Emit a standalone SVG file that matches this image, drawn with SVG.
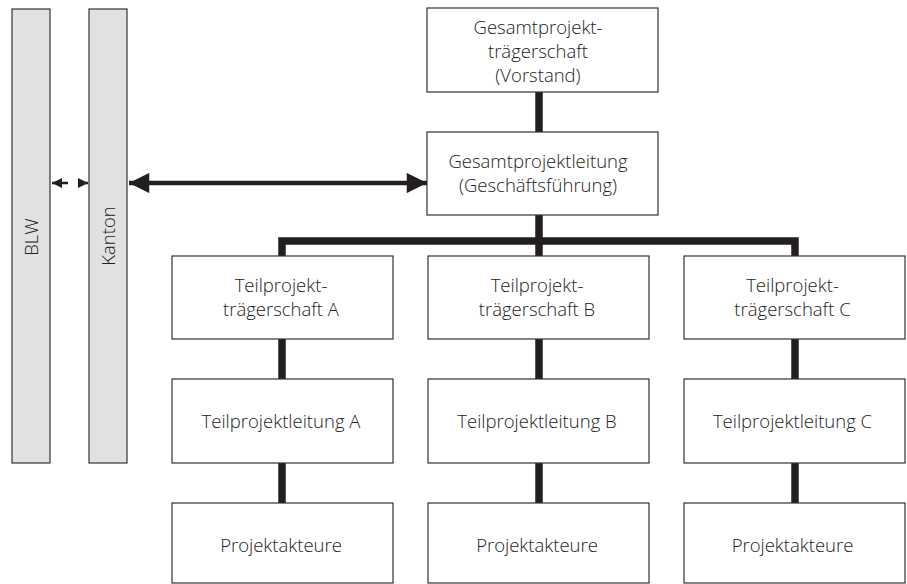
<svg xmlns="http://www.w3.org/2000/svg" width="907" height="584" viewBox="0 0 907 584">
<style>
.box{fill:#fff;stroke:#333;stroke-width:1.2}
.bar{fill:#e1e1e1;stroke:#333;stroke-width:1.2}
.t{font-family:"Open Sans","Liberation Sans",sans-serif;font-weight:300;font-size:18.5px;fill:#222;text-anchor:middle}
.c{stroke:#231f20;stroke-width:7.5;fill:none}
</style>
<defs>
<marker id="big" viewBox="0 0 10 10" refX="10" refY="5" markerWidth="5" markerHeight="4.5" markerUnits="strokeWidth" orient="auto-start-reverse"><path d="M0,0 L10,5 L0,10 Z" fill="#231f20"/></marker>
<marker id="sm" viewBox="0 0 10 10" refX="10" refY="5" markerWidth="4" markerHeight="4" markerUnits="strokeWidth" orient="auto-start-reverse"><path d="M0,0 L10,5 L0,10 Z" fill="#231f20"/></marker>
</defs>
<g id="connectors">
<path class="c" d="M539,92 V132"/>
<path class="c" d="M539,215 V256"/>
<path class="c" d="M282,256 V241 H795 V256"/>
<path class="c" d="M282,339 V379 M282,463 V503"/>
<path class="c" d="M539,339 V379 M539,463 V503"/>
<path class="c" d="M795,339 V379 M795,463 V503"/>
<line x1="129" y1="183" x2="427" y2="183" stroke="#231f20" stroke-width="4.5" marker-start="url(#big)" marker-end="url(#big)"/>
<line x1="52" y1="183" x2="68" y2="183" stroke="#231f20" stroke-width="2.5" marker-start="url(#sm)"/>
<line x1="78" y1="183" x2="88" y2="183" stroke="#231f20" stroke-width="2.5" marker-end="url(#sm)"/>
</g>
<g id="blw"><rect class="bar" x="12" y="9" width="38" height="454"/><text class="t" transform="translate(37.5,237) rotate(-90)">BLW</text></g>
<g id="kanton"><rect class="bar" x="89" y="9" width="38" height="454"/><text class="t" transform="translate(114.5,236) rotate(-90)">Kanton</text></g>
<g id="gpt"><rect class="box" x="427" y="8" width="231" height="84"/><text class="t" x="538" y="34">Gesamtprojekt-</text><text class="t" x="538" y="58">trägerschaft</text><text class="t" x="538" y="82">(Vorstand)</text></g>
<g id="gpl"><rect class="box" x="427" y="132" width="231" height="83"/><text class="t" x="538" y="168">Gesamtprojektleitung</text><text class="t" x="538" y="192">(Geschäftsführung)</text></g>
<g id="tpta"><rect class="box" x="172" y="256" width="221" height="83"/><text class="t" x="281" y="292">Teilprojekt-</text><text class="t" x="281" y="316">trägerschaft A</text></g>
<g id="tptb"><rect class="box" x="428" y="256" width="221" height="83"/><text class="t" x="537" y="292">Teilprojekt-</text><text class="t" x="537" y="316">trägerschaft B</text></g>
<g id="tptc"><rect class="box" x="684" y="256" width="221" height="83"/><text class="t" x="792.5" y="292">Teilprojekt-</text><text class="t" x="792.5" y="316">trägerschaft C</text></g>
<g id="tpla"><rect class="box" x="172" y="379" width="221" height="84"/><text class="t" x="281" y="428">Teilprojektleitung A</text></g>
<g id="tplb"><rect class="box" x="428" y="379" width="221" height="84"/><text class="t" x="537" y="428">Teilprojektleitung B</text></g>
<g id="tplc"><rect class="box" x="684" y="379" width="221" height="84"/><text class="t" x="792.5" y="428">Teilprojektleitung C</text></g>
<g id="pa"><rect class="box" x="172" y="503" width="221" height="80"/><text class="t" x="281" y="552">Projektakteure</text></g>
<g id="pb"><rect class="box" x="428" y="503" width="221" height="80"/><text class="t" x="537" y="552">Projektakteure</text></g>
<g id="pc"><rect class="box" x="684" y="503" width="221" height="80"/><text class="t" x="792.5" y="552">Projektakteure</text></g>
</svg>
